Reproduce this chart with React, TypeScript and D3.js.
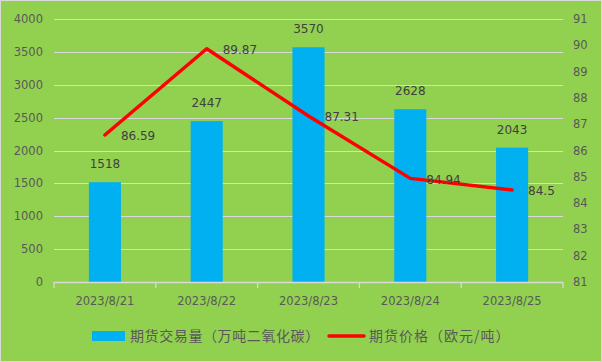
import * as d3 from "d3";

const categories = ["2023/8/21", "2023/8/22", "2023/8/23", "2023/8/24", "2023/8/25"];
const volume = [1518, 2447, 3570, 2628, 2043];
const price = [86.59, 89.87, 87.31, 84.94, 84.5];
const leftTicks = [0, 500, 1000, 1500, 2000, 2500, 3000, 3500, 4000];
const rightTicks = [81, 82, 83, 84, 85, 86, 87, 88, 89, 90, 91];
const volumeName = "期货交易量（万吨二氧化碳）";
const priceName = "期货价格（欧元/吨）";

export default function App() {
  const width = 602;
  const height = 362;
  const marginTop = 19;
  const marginBottom = 80;
  const marginLeft = 54;
  const marginRight = 39;

  const x = d3
    .scaleBand()
    .domain(categories)
    .range([marginLeft, width - marginRight])
    .paddingInner(0)
    .paddingOuter(0);
  const yL = d3.scaleLinear([0, 4000], [height - marginBottom, marginTop]);
  const yR = d3.scaleLinear([81, 91], [height - marginBottom, marginTop]);

  const barW = x.bandwidth() * 0.315;
  const cx = (c: string) => (x(c) ?? 0) + x.bandwidth() / 2;

  const line = d3
    .line<number>()
    .x((_, i) => cx(categories[i]))
    .y((d) => yR(d));

  const tickColor = "#595959";
  const labelColor = "#404040";
  const numFont = "DejaVu Sans, sans-serif";
  const cjkFont = "'Noto Sans CJK SC', sans-serif";
  const bottom = height - marginBottom;
  const boundaries = [...categories.map((c) => x(c) ?? 0), width - marginRight];

  return (
    <svg
      width={width}
      height={height}
      style={{ position: "absolute", left: 0, top: 0 }}
    >
      <rect x={0.5} y={0.5} width={width - 1} height={height - 1} fill="#92D050" stroke="#D9D9D9" />

      {/* gridlines */}
      <g stroke="#D9D9D9" strokeWidth={1}>
        {leftTicks.slice(1).map((t) => (
          <line key={t} x1={marginLeft} x2={width - marginRight} y1={Math.round(yL(t)) + 0.5} y2={Math.round(yL(t)) + 0.5} />
        ))}
      </g>

      {/* left axis labels */}
      <g fontFamily={numFont} fontSize={11.5} fill={tickColor} textAnchor="end">
        {leftTicks.map((t) => (
          <text key={t} x={43} y={yL(t)} dy="0.35em">
            {t}
          </text>
        ))}
      </g>

      {/* right axis labels */}
      <g fontFamily={numFont} fontSize={11.5} fill={tickColor} textAnchor="start">
        {rightTicks.map((t) => (
          <text key={t} x={573} y={yR(t)} dy="0.35em">
            {t}
          </text>
        ))}
      </g>

      {/* bars */}
      <g fill="#00B0F0">
        {volume.map((v, i) => (
          <rect key={i} x={cx(categories[i]) - barW / 2} y={yL(v)} width={barW} height={bottom - yL(v)} />
        ))}
      </g>

      {/* x axis */}
      <g stroke="#D9D9D9" strokeWidth={1.3}>
        <line x1={marginLeft} x2={width - marginRight} y1={bottom + 0.5} y2={bottom + 0.5} />
        {boundaries.map((b, i) => (
          <line key={i} x1={b} x2={b} y1={bottom} y2={bottom + 6} />
        ))}
      </g>
      <g fontFamily={numFont} fontSize={11.5} fill={tickColor} textAnchor="middle">
        {categories.map((c) => (
          <text key={c} x={cx(c)} y={bottom + 19} dy="0.35em">
            {c}
          </text>
        ))}
      </g>

      {/* price line */}
      <path d={line(price) ?? ""} fill="none" stroke="#FF0000" strokeWidth={3.5} strokeLinejoin="round" strokeLinecap="round" />

      {/* data labels */}
      <g fontFamily={numFont} fontSize={12} fill={labelColor}>
        {volume.map((v, i) => (
          <text key={i} x={cx(categories[i])} y={yL(v) - 18} dy="0.35em" textAnchor="middle">
            {v}
          </text>
        ))}
        {price.map((p, i) => (
          <text key={i} x={cx(categories[i]) + 16} y={yR(p) + 1} dy="0.35em">
            {p}
          </text>
        ))}
      </g>

      {/* legend */}
      <rect x={92} y={331} width={33} height={10} fill="#00B0F0" />
      <text x={130} y={336} dy="0.35em" fontFamily={cjkFont} fontSize={14} letterSpacing={0.6} fill={tickColor}>
        {volumeName}
      </text>
      <line x1={329} x2={364} y1={336} y2={336} stroke="#FF0000" strokeWidth={3.5} strokeLinecap="round" />
      <text x={369} y={336} dy="0.35em" fontFamily={cjkFont} fontSize={14} letterSpacing={1} fill={tickColor}>
        {priceName}
      </text>
    </svg>
  );
}
